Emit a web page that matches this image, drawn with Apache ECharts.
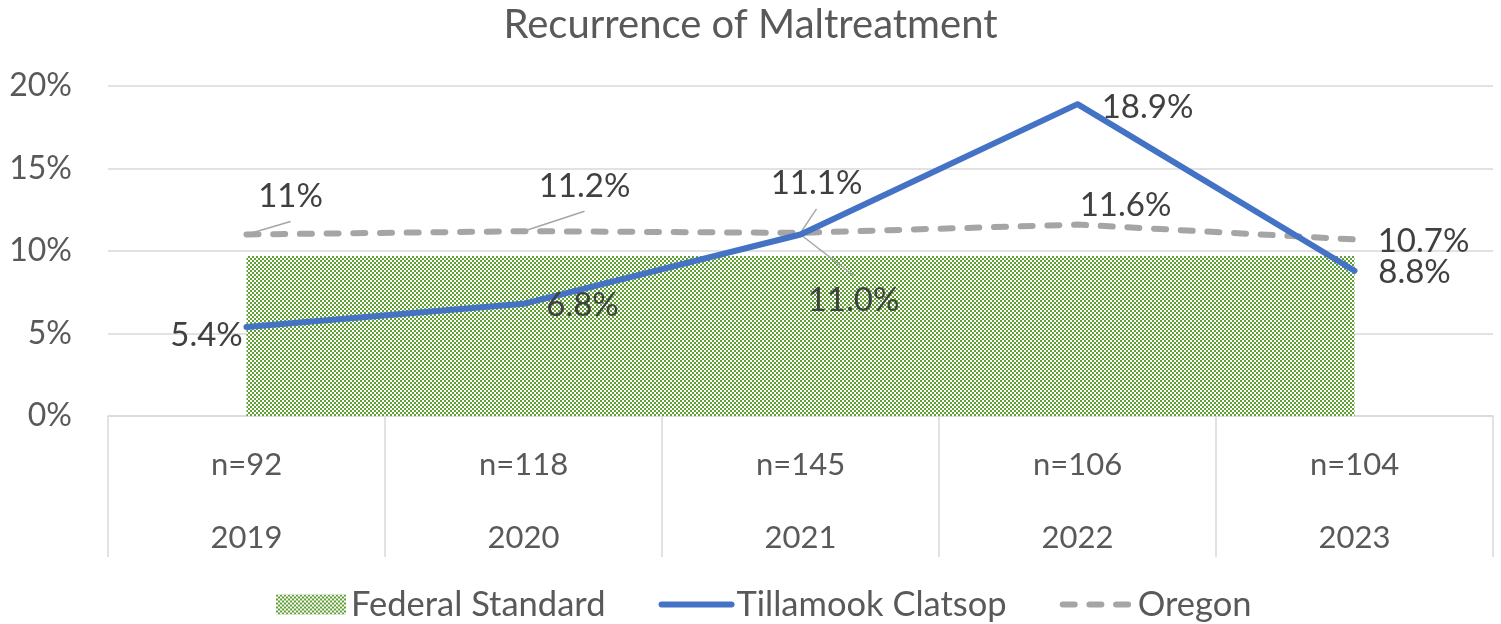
<!DOCTYPE html>
<html>
<head>
<meta charset="utf-8">
<script src="https://cdn.jsdelivr.net/npm/echarts@6/dist/echarts.min.js"></script>
<style>
html,body{margin:0;padding:0;background:#fff;}
#chart{width:1501px;height:624px;}
</style>
</head>
<body>
<div id="chart"></div>
<script>
// ---- data ----
const years = ['2019', '2020', '2021', '2022', '2023'];
const sampleSizes = ['n=92', 'n=118', 'n=145', 'n=106', 'n=104'];
const federalStandard = [9.7, 9.7, 9.7, 9.7, 9.7];
const tillamookClatsop = [5.4, 6.8, 11.0, 18.9, 8.8];
const oregon = [11, 11.2, 11.1, 11.6, 10.7];
const yTicks = [0, 5, 10, 15, 20];

// ---- styling ----
const FONT = 'Lato';
const GREEN = '#5f9f34';
const pat = document.createElement('canvas');
pat.width = 4; pat.height = 4;
const pctx = pat.getContext('2d');
pctx.fillStyle = '#ffffff'; pctx.fillRect(0, 0, 4, 4);
pctx.fillStyle = GREEN; pctx.fillRect(0, 0, 2, 2); pctx.fillRect(2, 2, 2, 2);
const hatch = { image: pat, repeat: 'repeat' };

// label offsets (label centre relative to its point) and which labels get a leader line
const tillOffsets = [[-40, 8], [59, 2], [53, 66], [70, 3], [60, 2]];
const tillLeader = [false, false, true, false, false];
const orOffsets = [[44, -38], [61, -45], [16, -49], [48, -19], [69, 2]];
const orLeader = [true, true, true, false, false];
const LEADER_GAP = 25;

// leader-line records built from the series values: [categoryIndex, value, dx, dy]
const leaderData = [];
tillamookClatsop.forEach((v, i) => { if (tillLeader[i]) leaderData.push([i, v, tillOffsets[i][0], tillOffsets[i][1]]); });
oregon.forEach((v, i) => { if (orLeader[i]) leaderData.push([i, v, orOffsets[i][0], orOffsets[i][1]]); });

function layoutFor(offsets) {
  return p => ({ dx: offsets[p.dataIndex][0], dy: offsets[p.dataIndex][1] });
}

const labelBase = {
  show: true, position: 'inside', color: '#404040',
  fontFamily: FONT, fontSize: 33
};

const chart = echarts.init(document.getElementById('chart'), null, { renderer: 'canvas' });
chart.setOption({
  animation: false,
  backgroundColor: '#ffffff',
  title: {
    text: 'Recurrence of Maltreatment', left: 'center', top: 0,
    textStyle: { color: '#595959', fontFamily: FONT, fontSize: 40, fontWeight: 'normal' }
  },
  legend: {
    top: 582, left: 271, itemWidth: 70, itemHeight: 20, itemGap: 53,
    textStyle: { color: '#595959', fontFamily: FONT, fontSize: 34.5 },
    data: [
      { name: 'Federal Standard', icon: 'rect', itemStyle: { color: hatch } },
      { name: 'Tillamook Clatsop', lineStyle: { width: 6 } },
      { name: 'Oregon', lineStyle: { width: 6 } }
    ]
  },
  grid: { left: 108, right: 8, top: 86, bottom: 208, containLabel: false },
  xAxis: {
    type: 'category', data: years, boundaryGap: true,
    axisLine: { lineStyle: { color: '#d9d9d9', width: 1.5 } },
    axisTick: { show: true, length: 141, interval: 0, lineStyle: { color: '#d9d9d9', width: 1.5 } },
    axisLabel: {
      interval: 0, margin: 12,
      formatter: (v, i) => '{n|' + sampleSizes[i] + '}\n{y|' + v + '}',
      rich: {
        n: { fontFamily: FONT, fontSize: 31, color: '#595959', lineHeight: 73 },
        y: { fontFamily: FONT, fontSize: 31, color: '#595959', lineHeight: 73 }
      }
    }
  },
  yAxis: {
    type: 'value', min: yTicks[0], max: yTicks[yTicks.length - 1], interval: 5,
    axisLine: { show: false }, axisTick: { show: false },
    axisLabel: { formatter: '{value}%', color: '#595959', fontFamily: FONT, fontSize: 32, margin: 36 },
    splitLine: { lineStyle: { color: '#d9d9d9', width: 1.5 } }
  },
  series: [
    {
      name: 'Federal Standard', type: 'line', data: federalStandard,
      symbol: 'none', silent: true, z: 1,
      lineStyle: { width: 0 },
      itemStyle: { color: GREEN },
      areaStyle: { color: hatch, opacity: 1 }
    },
    {
      name: 'leaders', type: 'custom', data: leaderData, silent: true, z: 2,
      encode: { x: 0, y: 1 },
      renderItem: (params, api) => {
        const p = api.coord([api.value(0), api.value(1)]);
        const dx = api.value(2), dy = api.value(3);
        return {
          type: 'line',
          shape: { x1: p[0], y1: p[1], x2: p[0] + dx, y2: p[1] + dy + (dy < 0 ? LEADER_GAP : -LEADER_GAP) },
          style: { stroke: '#a6a6a6', lineWidth: 1.5 }
        };
      }
    },
    {
      name: 'Tillamook Clatsop', type: 'line', data: tillamookClatsop,
      symbol: 'circle', symbolSize: 1, showSymbol: true, z: 4,
      itemStyle: { color: '#4472c4', opacity: 0 },
      lineStyle: { color: '#4472c4', width: 6, join: 'round', cap: 'round' },
      label: Object.assign({}, labelBase, { formatter: p => p.value.toFixed(1) + '%', opacity: 1 }),
      labelLayout: layoutFor(tillOffsets)
    },
    {
      name: 'Oregon', type: 'line', data: oregon,
      symbol: 'circle', symbolSize: 1, showSymbol: true, z: 3,
      itemStyle: { color: '#a5a5a5', opacity: 0 },
      lineStyle: { color: '#a5a5a5', width: 6, type: [12, 14.7], cap: 'round', join: 'round' },
      label: Object.assign({}, labelBase, { formatter: p => p.value + '%', opacity: 1 }),
      labelLayout: layoutFor(orOffsets)
    }
  ]
});
</script>
</body>
</html>
